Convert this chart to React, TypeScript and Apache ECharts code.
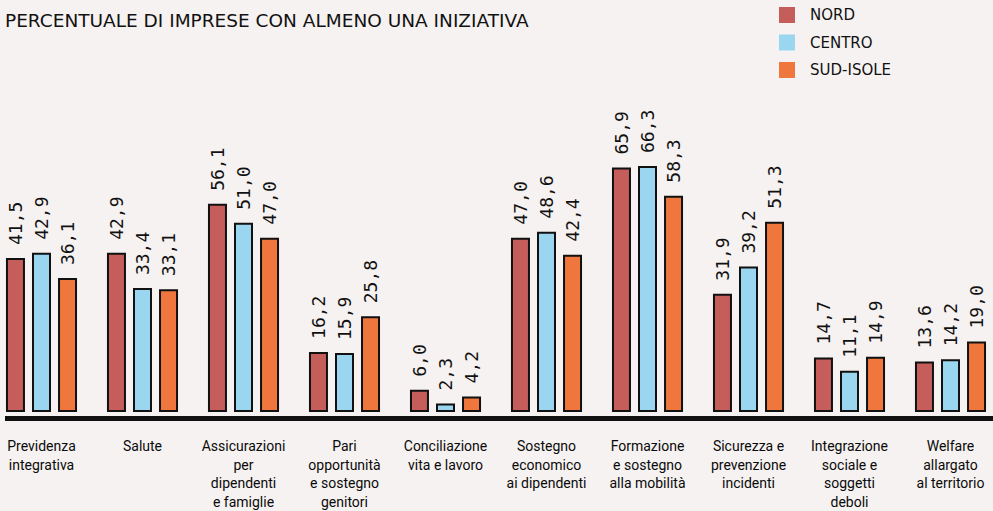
import React, { useEffect, useRef } from "react";
import * as echarts from "echarts";

const categories = [
  "Previdenza\nintegrativa",
  "Salute",
  "Assicurazioni\nper\ndipendenti\ne famiglie",
  "Pari\nopportunità\ne sostegno\ngenitori",
  "Conciliazione\nvita e lavoro",
  "Sostegno\neconomico\nai dipendenti",
  "Formazione\ne sostegno\nalla mobilità",
  "Sicurezza e\nprevenzione\nincidenti",
  "Integrazione\nsociale e\nsoggetti\ndeboli",
  "Welfare\nallargato\nal territorio",
];
const nord = [41.5, 42.9, 56.1, 16.2, 6.0, 47.0, 65.9, 31.9, 14.7, 13.6];
const centro = [42.9, 33.4, 51.0, 15.9, 2.3, 48.6, 66.3, 39.2, 11.1, 14.2];
const sud = [36.1, 33.1, 47.0, 25.8, 4.2, 42.4, 58.3, 51.3, 14.9, 19.0];
const seriesNames = ["NORD", "CENTRO", "SUD-ISOLE"];
const subtitle = "PERCENTUALE DI IMPRESE CON ALMENO UNA INIZIATIVA";

const colors = ["#c55d5b", "#9bd6f1", "#ef773d"];
const SHIFT = 9;

export default function App() {
  const ref = useRef<HTMLDivElement>(null);
  useEffect(() => {
    if (!ref.current) return;
    const chart = echarts.init(ref.current, null, { renderer: "svg" });
    const mk = (name: string, data: number[], i: number) => ({
      name,
      type: "bar",
      data,
      barWidth: 19,
      barGap: "37%",
      itemStyle: { color: colors[i], borderColor: "#111", borderWidth: 2 },
      label: {
        show: true,
        position: "top",
        rotate: 90,
        align: "left",
        verticalAlign: "middle",
        distance: 13,
        fontFamily: "DejaVu Sans Mono",
        fontSize: 18,
        color: "#111",
        formatter: (p: any) => p.value.toFixed(1).replace(".", ","),
      },
    });
    chart.setOption({
      animation: false,
      backgroundColor: "#f6f2f1",
      grid: { left: 0, right: 0, top: 41, bottom: 94, containLabel: false },
      legend: {
        orient: "vertical",
        left: 779 + SHIFT,
        top: 7,
        padding: 0,
        itemWidth: 16,
        itemHeight: 16,
        itemGap: 11.5,
        icon: "rect",
        itemStyle: { borderWidth: 0 },
        textStyle: {
          fontFamily: "DejaVu Sans",
          fontSize: 15,
          color: "#111",
          padding: [0, 0, 0, 10],
        },
        data: seriesNames,
      },
      xAxis: {
        type: "category",
        data: categories,
        axisLine: { show: false },
        axisTick: { show: false },
        axisLabel: {
          interval: 0,
          margin: 25,
          fontFamily: "Roboto",
          fontSize: 14,
          lineHeight: 18.5,
          color: "#0a0a0a",
          verticalAlign: "top",
        },
      },
      yAxis: {
        type: "value",
        min: 0,
        max: 100,
        show: false,
        splitLine: { show: false },
      },
      graphic: [
        {
          type: "rect",
          left: 5 + SHIFT,
          top: 416,
          shape: { width: 988, height: 5 },
          style: { fill: "#111" },
          z: 10,
        },
        {
          type: "text",
          left: 5 + SHIFT,
          top: 11,
          style: {
            text: subtitle,
            fontFamily: "DejaVu Sans",
            fontSize: 18.5,
            fill: "#111",
          },
        },
      ],
      series: [mk(seriesNames[0], nord, 0), mk(seriesNames[1], centro, 1), mk(seriesNames[2], sud, 2)],
    });
    return () => chart.dispose();
  }, []);
  return (
    <div
      style={{ position: "fixed", left: 0, top: 0, width: 993, height: 511, overflow: "hidden", background: "#f6f2f1" }}
    >
      <div
        ref={ref}
        style={{ position: "absolute", left: -SHIFT, top: 0, width: 1010, height: 511 }}
      />
    </div>
  );
}
